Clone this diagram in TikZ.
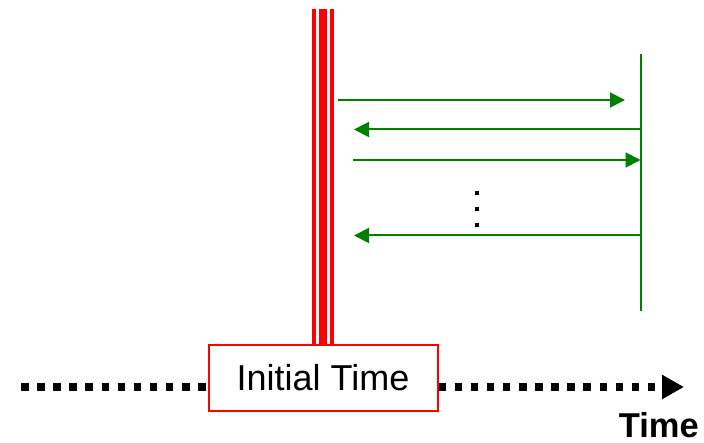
\documentclass[tikz,border=0pt]{standalone}
\usepackage{fontspec}
\setmainfont{Liberation Sans}
\usetikzlibrary{arrows.meta}
\definecolor{msgreen}{RGB}{0,128,0}
\tikzset{
  timebox/.style={draw=red, line width=2pt, fill=white, minimum width=229pt,
    minimum height=65pt, inner sep=0pt, font=\fontsize{36}{40}\selectfont},
  timeaxis/.style={line width=7.5pt, dash pattern=on 7.5pt off 8.6pt, line cap=butt},
  axistip/.style={-{Triangle[length=22pt,width=23pt]}},
  thinbar/.style={draw=red, line width=4pt},
  thickbar/.style={draw=red, line width=7.4pt},
  lifeline/.style={draw=msgreen, line width=2pt},
  msg/.style={draw=msgreen, line width=2pt, -{Triangle[length=15pt,width=15pt]}, fill=msgreen},
  dotmark/.style={fill=black, minimum size=4.2pt, inner sep=0pt, draw=none}
}
\begin{document}
\begin{tikzpicture}[x=1pt, y=-1pt]
  \useasboundingbox (0,0) rectangle (704,443);

  % initial time box on the time axis
  \node[timebox] (box) at (323,378) {Initial Time};

  % time axis
  \coordinate (axl) at (21,387);
  \coordinate (axr) at (684,387);
  \draw[timeaxis] (axl) -- (axl -| box.west);
  \draw[timeaxis, axistip] (axr -| box.east) -- (axr);
  \node[anchor=base east, font=\bfseries\fontsize{34.5}{40}\selectfont, inner sep=0pt]
    (tlabel) at (699,437) {Time};

  % triple red bar rising from the box
  \coordinate (bartop) at (323,9);
  \draw[thinbar]  ([xshift=-9pt]bartop) -- ([xshift=-9pt]box.north);
  \draw[thickbar] (bartop) -- (box.north);
  \draw[thinbar]  ([xshift=9pt]bartop) -- ([xshift=9pt]box.north);

  % green lifeline
  \coordinate (ltop) at (640.5,54);
  \coordinate (lbot) at (640.5,311);
  \draw[lifeline] (ltop) -- (lbot);

  % message endpoints
  \coordinate (m1a) at (338,100);   \coordinate (m1b) at (625,100);
  \coordinate (m2a) at (640.5,129.5); \coordinate (m2b) at (354,129.5);
  \coordinate (m3a) at (353,160);   \coordinate (m3b) at (640.5,160);
  \coordinate (m4a) at (640.5,235.5); \coordinate (m4b) at (354,235.5);

  \draw[msg] (m1a) -- (m1b);
  \draw[msg] (m2a) -- (m2b);
  \draw[msg] (m3a) -- (m3b);
  \draw[msg] (m4a) -- (m4b);

  % vertical ellipsis between the messages
  \node[dotmark] (d1) at (476.7,192.7) {};
  \node[dotmark] (d2) at (476.7,208.7) {};
  \node[dotmark] (d3) at (476.7,224.7) {};
\end{tikzpicture}
\end{document}
